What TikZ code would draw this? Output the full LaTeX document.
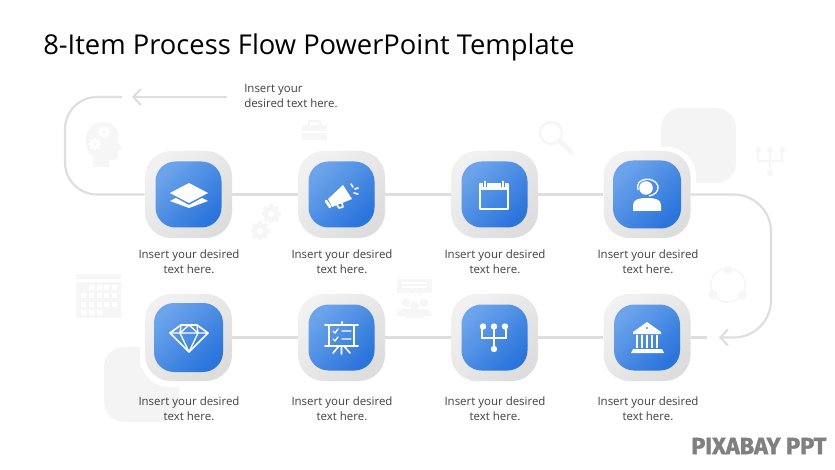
\documentclass[tikz,border=0pt]{standalone}
\usepackage{fontspec}
\setmainfont{Open Sans}
\newfontfamily\markfont[BoldFeatures={FakeBold=1.6}]{Fira Sans}
\usetikzlibrary{arrows.meta}
\definecolor{conn}{HTML}{DEDEDE}
\definecolor{faint}{HTML}{F6F6F6}
\definecolor{blob}{HTML}{F4F4F4}
\definecolor{cap}{HTML}{404040}
\definecolor{bluelight}{HTML}{6CA4EB}
\definecolor{bluedark}{HTML}{2A74DC}
\definecolor{boxlight}{HTML}{F1F1F1}
\definecolor{boxdark}{HTML}{DDDDDD}
\tikzset{
  outerbox/.style={minimum size=65.25pt,inner sep=0pt,rounded corners=19.5pt,shade,shading=axis,top color=boxlight,bottom color=boxdark,shading angle=45},
  innerbox/.style={minimum size=#1,inner sep=0pt,rounded corners=15pt,shade,shading=axis,top color=bluelight,bottom color=bluedark,shading angle=45},
  innerbox/.default=49.5pt,
  capt/.style={text=cap,font=\fontsize{8.6pt}{11.25pt}\selectfont,align=center,inner sep=0pt},
  linkline/.style={draw=conn,line width=1.6pt},
  arrowline/.style={linkline,-{Straight Barb[length=5.5pt,width=12pt,line width=1.6pt]}},
  iconline/.style={draw=white,line width=1.2pt,line cap=round,line join=round},
  fal/.style={draw=faint,line width=1.5pt},
}
\newcommand\gearshape[3]{%
  \foreach \a in {0,45,...,315}{\fill[#3,rotate around={\a:(#1,#2)}] (#1-1.7,#2-9.5) rectangle (#1+1.7,#2+9.5);}
  \fill[#3] (#1,#2) circle[radius=7.5];
}
\begin{document}
\begin{tikzpicture}[x=0.75pt,y=-0.75pt]
\useasboundingbox (0,0) rectangle (835,470);
\fill[white] (0,0) rectangle (835,470);
% faint background blobs
\fill[blob,rounded corners=15pt] (661,108) rectangle (736,183);
\fill[blob,rounded corners=15pt] (104,347) rectangle (179,422);
% faint icons: head
\fill[faint] (93,167) -- (93,156) .. controls (80,146) and (84,122) .. (103,122) .. controls (115,122) and (120,132) .. (118,142) -- (122,149) -- (118,151) -- (118,158) .. controls (117,160) and (112,160) .. (109,160) -- (109,167) -- cycle;
\begin{scope}[shift={(104,132)},scale=0.65]\gearshape{0}{0}{white}\fill[faint] (0,0) circle[radius=3];\end{scope}
\begin{scope}[shift={(95,144)},scale=0.65]\gearshape{0}{0}{white}\fill[faint] (0,0) circle[radius=3];\end{scope}
% briefcase
\fill[faint] (302,125) rectangle (327,131);
\fill[faint] (302,133) rectangle (327,140);
\draw[fal] (309,125) -- (309,121) -- (320,121) -- (320,125);
% magnifier
\draw[draw=faint,line width=2pt] (551,133) circle[radius=11];
\draw[draw=faint,line width=3.5pt,line cap=round] (560,141) -- (571,152);
% faint tree
\fill[faint] (758,150) circle[radius=3] (770,150) circle[radius=3] (782,150) circle[radius=3] (770,173) circle[radius=3.2];
\draw[fal] (758,153) -- (758,161) -- (782,161) -- (782,153) (770,153) -- (770,170);
% gears
\gearshape{271}{214}{faint}\fill[white] (271,214) circle[radius=3];
\gearshape{260}{231}{faint}\fill[white] (260,231) circle[radius=3];
% calendar
\fill[faint] (76,274) rectangle (121,279);
\fill[faint] (76,282) rectangle (121,318);
\foreach \y/\cols in {288/{91,99,106,114},296/{83,91,99,106,114},304/{83,91,99,106,114},312/{83,91,99}}
  \foreach \x in \cols {\fill[white] (\x-2.5,\y-2.5) rectangle (\x+2.5,\y+2.5);}
% chat and people
\fill[faint] (397,279) rectangle (432,293);
\draw[draw=white,line width=1pt] (402,283) -- (427,283) (402,287) -- (427,287);
\fill[faint] (408,295) circle[radius=1] (414,296) circle[radius=1] (420,295) circle[radius=1];
\fill[faint] (406,303) circle[radius=4] (424,303) circle[radius=4] (414.5,306) circle[radius=4.5];
\fill[faint] (397,316) .. controls (398,309) and (403,308) .. (408,309) -- (422,309) .. controls (427,308) and (431,309) .. (432,316) -- cycle;
\fill[faint] (405,318) .. controls (406,311) and (423,311) .. (424,318) -- cycle;
% cycle
\draw[draw=faint,line width=1.2pt] (728,285) circle[radius=17];
\fill[faint] (728,270) circle[radius=4.5] (713,295) circle[radius=4.5] (742,295) circle[radius=4.5];
% halos
\fill[white,rounded corners=22pt] (598,147) rectangle (696,243);
\fill[white,rounded corners=22pt] (140,289) rectangle (237,387);
% title
\node[anchor=west,inner sep=0pt,text=black,font=\fontsize{20.5pt}{24pt}\selectfont] (title) at (43,47) {8-Item Process Flow PowerPoint Template};
% top note
\node[anchor=north west,capt,align=left] (note) at (244,84) {Insert your\\desired text here.};
% connectors anchored on the boxes, which are placed first without paint
\node[minimum size=65.25pt,inner sep=0pt] (n1) at (188.5,194.5) {};
\node[minimum size=65.25pt,inner sep=0pt] (n2) at (341.5,194.5) {};
\node[minimum size=65.25pt,inner sep=0pt] (n3) at (494.5,194.5) {};
\node[minimum size=65.25pt,inner sep=0pt] (n4) at (647,194.5) {};
\node[minimum size=65.25pt,inner sep=0pt] (n5) at (188.5,337.5) {};
\node[minimum size=65.25pt,inner sep=0pt] (n6) at (341.5,337.5) {};
\node[minimum size=65.25pt,inner sep=0pt] (n7) at (494.5,337.5) {};
\node[minimum size=65.25pt,inner sep=0pt] (n8) at (647,337.5) {};
\coordinate (ltop) at (65,97);
\coordinate (lbot) at (65,194.5);
\coordinate (lend) at (122,97);
\coordinate (astart) at (227,97);
\coordinate (atip) at (132,97);
\coordinate (rtop) at (771,194.5);
\coordinate (rbot) at (771,337.5);
\coordinate (rtip) at (719,337.5);
\coordinate (rstub) at (707,337.5);
\draw[linkline,rounded corners=24pt] (n1.west) -- (lbot) -- (ltop) -- (lend);
\draw[arrowline] (astart) -- (atip);
\draw[linkline] (n1) -- (n2);
\draw[linkline] (n2) -- (n3);
\draw[linkline] (n3) -- (n4);
\draw[linkline] (n5) -- (n6);
\draw[linkline] (n6) -- (n7);
\draw[linkline] (n7) -- (n8);
\draw[arrowline,rounded corners=28pt] (n4.east) -- (rtop) -- (rbot) -- (rtip);
\draw[linkline] (n8.east) -- (rstub);
% painted boxes
\node[outerbox] (o1) at (n1) {}; \node[outerbox] (o2) at (n2) {}; \node[outerbox] (o3) at (n3) {}; \node[outerbox] (o4) at (n4) {};
\node[outerbox] (o5) at (n5) {}; \node[outerbox] (o6) at (n6) {}; \node[outerbox] (o7) at (n7) {}; \node[outerbox] (o8) at (n8) {};
\node[innerbox] (i1) at (n1) {}; \node[innerbox] (i2) at (n2) {}; \node[innerbox] (i3) at (n3) {}; \node[innerbox=51pt] (i4) at (n4) {};
\node[innerbox=51.75pt] (i5) at (n5) {}; \node[innerbox] (i6) at (n6) {}; \node[innerbox] (i7) at (n7) {}; \node[innerbox] (i8) at (n8) {};
% layers
\fill[white] (170,193) -- (189,183) -- (208,193) -- (189,203) -- cycle;
\fill[white] (170,201) -- (176,198) -- (189,205) -- (202,198) -- (208,201) -- (189,208) -- cycle;
% megaphone
\fill[white] (328,199) -- (343,185) -- (352,199) -- (332,207) -- cycle;
\draw[iconline,line width=2pt] (326,201) -- (330,207);
\draw[iconline] (337,205) -- (339,208) -- (343,207) -- (342,203);
\draw[iconline] (351,184) -- (353,187) (355,189) -- (358,188) (354,193) -- (358,194);
% calendar
\draw[iconline,line cap=butt,line width=1.5pt] (480,184) rectangle (508,209);
\fill[white] (479,184) rectangle (509,190);
\draw[iconline,line width=1.3pt] (485,181.5) -- (485,186) (503,181.5) -- (503,186);
\draw[draw=bluedark!60!bluelight,line width=0.6pt] (483.5,183) -- (483.5,187) (486.5,183) -- (486.5,187) (501.5,183) -- (501.5,187) (504.5,183) -- (504.5,187);
% person
\fill[white] (646,188) circle[radius=6.8];
\draw[draw=white,line width=1pt] (638,190) .. controls (634,178) and (654,175) .. (658,186) .. controls (659,192) and (654,195) .. (649,196);
\fill[white] (633,211) -- (633,205) .. controls (633,199) and (640,198) .. (647,198) .. controls (654,198) and (661,199) .. (661,205) -- (661,211) -- cycle;
% diamond
\draw[iconline] (170,333) -- (181,325) -- (197,325) -- (208,333) -- (189,352) -- cycle;
\draw[iconline,line width=1pt] (170,333) -- (208,333) (181,325) -- (180,333) -- (189,352) -- (198,333) -- (197,325) (180,333) -- (189,325) -- (198,333);
% board
\draw[iconline,line width=1.5pt] (325,325) -- (358,325) (325,346) -- (358,346) (329,325) -- (329,346) (354,325) -- (354,346) (341.5,322) -- (341.5,325);
\draw[iconline,line width=1.2pt] (341.5,346) -- (341.5,354) (339,346) -- (333,353) (344,346) -- (350,353);
\draw[iconline,line width=1pt] (333,331) -- (335,333) -- (338,329) (333,339) -- (335,341) -- (338,337) (342,331) -- (351,331) (342,339) -- (351,339);
% tree
\fill[white] (483,326.5) circle[radius=3.2] (494,326.5) circle[radius=3.2] (505,326.5) circle[radius=3.2] (494,349) circle[radius=3.2];
\draw[draw=white,line width=1.1pt] (482,328) -- (482,338) -- (506,338) -- (506,328) (494,328) -- (494,347);
% bank
\fill[white] (647,322) -- (661,332) -- (661,334) -- (633,334) -- (633,332) -- cycle;
\fill[bluedark!50!bluelight] (647,328) circle[radius=1.2];
\foreach \x in {637,642,647,652,657}{\fill[white] (\x-1.3,335) rectangle (\x+1.3,348);}
\fill[white] (631,353) -- (664,353) -- (662,349) -- (633,349) -- cycle;
% captions
\node[capt] (c1) at (189,261.5) {Insert your desired\\text here.};
\node[capt] (c2) at (342,261.5) {Insert your desired\\text here.};
\node[capt] (c3) at (495,261.5) {Insert your desired\\text here.};
\node[capt] (c4) at (648,261.5) {Insert your desired\\text here.};
\node[capt] (c5) at (189,408.5) {Insert your desired\\text here.};
\node[capt] (c6) at (342,408.5) {Insert your desired\\text here.};
\node[capt] (c7) at (495,408.5) {Insert your desired\\text here.};
\node[capt] (c8) at (648,408.5) {Insert your desired\\text here.};
% watermark
\node[anchor=west,inner sep=0pt,text=black!50,font=\markfont\bfseries\fontsize{17.6pt}{20pt}\selectfont] (mark) at (691,446) {PIXABAY PPT};
\end{tikzpicture}
\end{document}
